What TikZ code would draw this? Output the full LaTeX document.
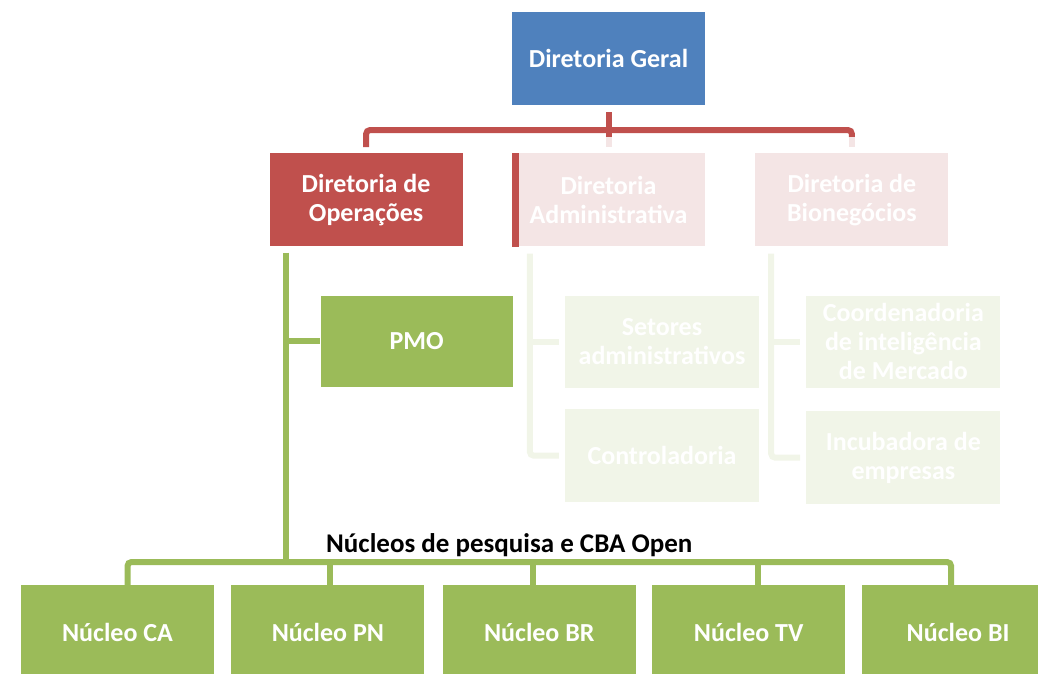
\documentclass[tikz,border=0pt]{standalone}
\usepackage{fontspec}
\setmainfont{Carlito}
\usetikzlibrary{positioning}
\definecolor{dgblue}{HTML}{4F81BD}
\definecolor{opred}{HTML}{C0504D}
\definecolor{opgreen}{HTML}{9BBB59}
\definecolor{palered}{HTML}{F4E5E5}
\definecolor{palegreen}{HTML}{F1F5E8}

\begin{document}
\begin{tikzpicture}[x=1pt,y=-1pt,
    box/.style={minimum width=193pt,minimum height=93pt,inner sep=0pt,align=center,
      text=white,font=\fontsize{26}{29}\selectfont\bfseries},
    nucbox/.style={box,fill=opgreen,minimum height=95pt},
    redln/.style={draw=opred,line width=6pt},
    paleln/.style={draw=palered,line width=6pt},
    grnln/.style={draw=opgreen,line width=6pt},
    paleg/.style={draw=palegreen,line width=6pt}]
    \useasboundingbox (0,0) rectangle (1038,673);
    %\fill[white] (0,0) rectangle (1038,673);
    \node[box,fill=dgblue] (dg) at (608.5,58.5) {Diretoria Geral};
    \node[box,fill=palered,below=48pt of dg] (dadm) {Diretoria\\Administrativa};
    \node[box,fill=opred,left=49pt of dadm] (dop) {Diretoria de\\Operações};
    \node[box,fill=palered,right=50pt of dadm] (dbio) {Diretoria de\\Bionegócios};
    \fill[opred] (dadm.north west) rectangle ([xshift=7pt]dadm.south west);
    \node[box,fill=opgreen,minimum width=192pt,minimum height=91pt,
      below right=49pt and 51pt of dop.south west] (pmo) {PMO};
    \node[box,fill=palegreen,minimum width=194pt,minimum height=92pt,
      below right=49pt and 53pt of dadm.south west] (setores) {Setores\\administrativos};
    \node[box,fill=palegreen,minimum width=194pt,minimum height=93pt,
      below=21pt of setores] (ctrl) {Controladoria};
    \node[box,fill=palegreen,minimum width=194pt,minimum height=92pt,
      below right=49pt and 51pt of dbio.south west] (coord) {Coordenadoria\\de inteligência\\de Mercado};
    \node[box,fill=palegreen,minimum width=194pt,minimum height=93pt,
      below=23pt of coord] (incub) {Incubadora de\\empresas};
    \node[nucbox] (ca) at (117.5,632.5) {Núcleo CA};
    \node[nucbox,right=17pt of ca] (pn) {Núcleo PN};
    \node[nucbox,right=18pt of pn] (br) {Núcleo BR};
    \node[nucbox,right=16pt of br] (tv) {Núcleo TV};
    \node[nucbox,right=16pt of tv] (bi) {Núcleo BI};
    \node[anchor=west,inner sep=0pt,font=\fontsize{27}{29}\selectfont\bfseries] (nlbl) at (326,545) {Núcleos de pesquisa e CBA Open};
    \coordinate (rbus) at (0,130);
    \coordinate (rfade) at (0,137);
    \coordinate (gbus) at (0,562);
    \draw[redln] ([yshift=-7pt]dg.south) -- (dg.south |- rfade);
    \draw[redln,rounded corners=4pt] ([yshift=6pt]dop.north) -- (dop.north |- rbus)
      -- (dbio.north |- rbus) -- (dbio.north |- rfade);
    \draw[paleln] (dadm.north |- rfade) -- ([yshift=6pt]dadm.north);
    \draw[paleln] (dbio.north |- rfade) -- ([yshift=6pt]dbio.north);
    \draw[grnln] ([xshift=17pt,yshift=-6pt]dop.south west) -- ([xshift=17pt]dop.south west |- gbus);
    \draw[grnln] ([xshift=17pt]dop.south west |- pmo.west) -- (pmo.west);
    \draw[grnln,rounded corners=4pt] ([xshift=10pt]ca.north) -- ([xshift=10pt]ca.north |- gbus)
      -- ([xshift=-7pt]bi.north |- gbus) -- ([xshift=-7pt]bi.north);
    \foreach \n/\dx in {pn/2,br/-6,tv/9}
      \draw[grnln] ([xshift=\dx pt]\n.north |- gbus) -- ([xshift=\dx pt]\n.north);
    \draw[paleg,rounded corners=4pt] ([xshift=18pt,yshift=-7pt]dadm.south west)
      -- ([xshift=18pt]dadm.south west |- ctrl.west) -- ([xshift=-6pt]ctrl.west);
    \draw[paleg] ([xshift=18pt]dadm.south west |- setores.west) -- ([xshift=-6pt]setores.west);
    \draw[paleg,rounded corners=4pt] ([xshift=16pt,yshift=-7pt]dbio.south west)
      -- ([xshift=16pt]dbio.south west |- incub.west) -- ([xshift=-6pt]incub.west);
    \draw[paleg] ([xshift=16pt]dbio.south west |- coord.west) -- ([xshift=-6pt]coord.west);
\end{tikzpicture}
\end{document}
